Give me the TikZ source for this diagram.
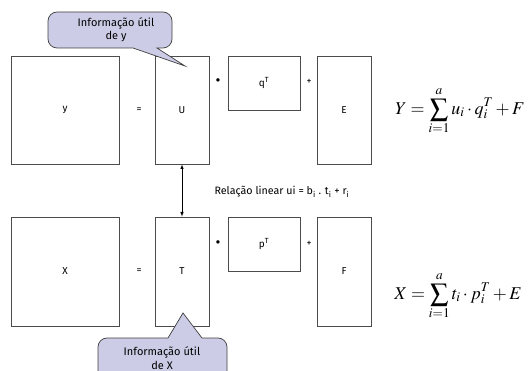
\documentclass[tikz,border=0pt]{standalone}
\usepackage{amsmath}
\usepackage{mathptmx}
\usepackage{fontspec}
\setmainfont{Fira Sans}
\begin{document}
\begin{tikzpicture}[x=1pt,y=-1pt,
  mat/.style={draw=black!70,line width=0.8pt,inner sep=0pt},
  lab/.style={font=\fontsize{10}{11}\selectfont},
  op/.style={font=\fontsize{10}{11}\selectfont},
  bul/.style={font=\fontsize{15}{16}\selectfont,inner sep=0pt},
  rellab/.style={font=\fontsize{10.7}{12}\selectfont},
  callout/.style={draw=black!75,line width=0.7pt,fill={rgb,255:red,204;green,204;blue,230}},
  ctext/.style={font=\fontsize{11}{13.5}\selectfont,align=center},
  formula/.style={font=\fontsize{18}{21}\selectfont}]
\useasboundingbox (0,0) rectangle (530,371);
% top row
\node[mat,minimum width=108pt,minimum height=108pt] (y) at (65,110) {};
\node[lab] at (y.center) {y};
\node[op] (eq1) at (139,110) {=};
\node[mat,minimum width=54pt,minimum height=108pt] (U) at (182,110) {};
\node[lab] at (U.center) {U};
\node[bul] (dot1) at (218,82) {•};
\node[mat,minimum width=72pt,minimum height=54pt] (q) at (264,83) {};
\node[lab] at (q.center) {q\textsuperscript{T}};
\node[op] (plus1) at (309,82) {+};
\node[mat,minimum width=54pt,minimum height=108pt] (E) at (344,110) {};
\node[lab] at (E.center) {E};
\node[formula] (fy) at (460,111) {$\displaystyle Y=\sum_{i=1}^{a}u_{i}\cdot q_{i}^{T}+F$};
% bottom row
\node[mat,minimum width=108pt,minimum height=109pt] (X) at (65,271.5) {};
\node[lab] at (X.center) {X};
\node[op] (eq2) at (139,271) {=};
\node[mat,minimum width=54pt,minimum height=109pt] (T) at (182,271.5) {};
\node[lab] at (T.center) {T};
\node[bul] (dot2) at (218,244) {•};
\node[mat,minimum width=72pt,minimum height=54pt] (p) at (264,244) {};
\node[lab] at (p.center) {p\textsuperscript{T}};
\node[op] (plus2) at (309,244) {+};
\node[mat,minimum width=54pt,minimum height=109pt] (F) at (344,271.5) {};
\node[lab] at (F.center) {F};
\node[formula] (fx) at (458,296) {$\displaystyle X=\sum_{i=1}^{a}t_{i}\cdot p_{i}^{T}+E$};
% relation
\draw[<->,>=latex,line width=0.6pt] (U) -- (T);
\node[rellab] (rel) at (282,192) {Relação linear ui = b\textsubscript{i} . t\textsubscript{i} + r\textsubscript{i}};
% callouts
\draw[callout] [rounded corners=9pt] (48,30) -- (48,12) -- (172,12) -- (172,48) [sharp corners] -- (157,48) -- (185,66) -- (133,48) [rounded corners=9pt] -- (48,48) -- cycle;
\node[ctext] (cy) at (116,30) {Informação útil\\de y};
\draw[callout] [rounded corners=9pt] (98,360) -- (98,338) [sharp corners] -- (168,338) -- (183,313) -- (202,338) [rounded corners=9pt] -- (227,338) -- (227,385) -- (98,385) -- cycle;
\node[ctext] (cx) at (162,358) {Informação útil\\de X};
\end{tikzpicture}
\end{document}
